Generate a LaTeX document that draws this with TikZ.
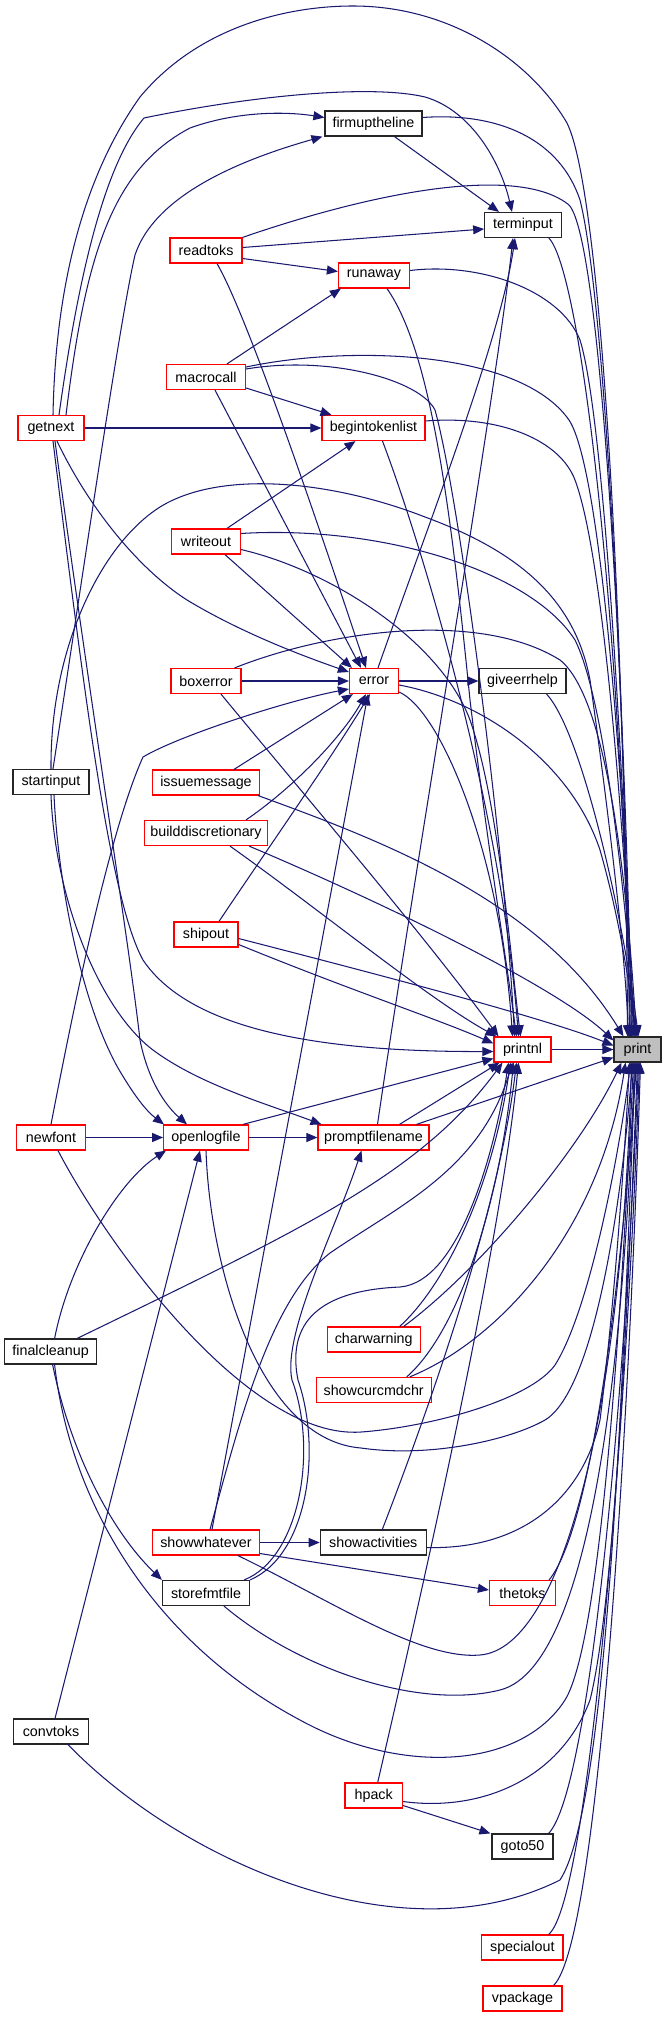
\documentclass[tikz,border=0pt]{standalone}
\usepackage{fontspec}
\setmainfont{Liberation Sans}
\usetikzlibrary{arrows.meta,calc}
\definecolor{nred}{RGB}{255,0,0}
\definecolor{edgec}{RGB}{25,25,112}
\definecolor{pgrey}{RGB}{191,191,191}
\newcommand\nfs{\fontsize{14.3}{16}\selectfont}
\tikzset{
  nbox/.style={draw, rectangle, line width=1.2pt, minimum height=25pt, inner sep=0pt, font=\nfs, fill=white, text=black},
  rn/.style={nbox, draw=nred},
  bn/.style={nbox, draw=black!85},
  e/.style={draw=edgec, line width=1.05pt, -{Triangle[length=11pt,width=9pt]}},
}
\begin{document}
\begin{tikzpicture}[x=1pt,y=-1pt]
\useasboundingbox (0,0) rectangle (663,2017);
% nodes
\node[bn, minimum width=97]  (fir) at (373.5,123.5) {firmuptheline};
\node[bn, minimum width=76.5](ter) at (523,225) {terminput};
\node[rn, minimum width=72]  (rea) at (206,250.5) {readtoks};
\node[rn, minimum width=71]  (run) at (374,275.5) {runaway};
\node[rn, minimum width=79]  (mac) at (206,377) {macrocall};
\node[rn, minimum width=66]  (get) at (51,428) {getnext};
\node[rn, minimum width=103] (beg) at (373.5,428) {begintokenlist};
\node[rn, minimum width=68.5](wri) at (206,541.5) {writeout};
\node[rn, minimum width=70]  (box) at (206,681) {boxerror};
\node[rn, minimum width=49]  (err) at (374,681) {error};
\node[bn, minimum width=87]  (giv) at (522.5,681) {giveerrhelp};
\node[bn, minimum width=76]  (sta) at (51,782) {startinput};
\node[rn, minimum width=107] (iss) at (206,782.5) {issuemessage};
\node[rn, minimum width=123] (bui) at (206,833) {builddiscretionary};
\node[rn, minimum width=64]  (shi) at (206,934.5) {shipout};
\node[rn, minimum width=57]  (pnl) at (522.5,1049.5) {printnl};
\node[bn, minimum width=47, fill=pgrey] (pri) at (637.5,1049.5) {print};
\node[rn, minimum width=68.4](new) at (51,1137.5) {newfont};
\node[rn, minimum width=84.6](ope) at (206,1137.5) {openlogfile};
\node[rn, minimum width=111] (pro) at (373.5,1137.5) {promptfilename};
\node[bn, minimum width=92]  (fin) at (50.6,1351.5) {finalcleanup};
\node[rn, minimum width=93]  (cha) at (373.7,1339.5) {charwarning};
\node[rn, minimum width=115] (scc) at (373.7,1390) {showcurcmdchr};
\node[rn, minimum width=107] (shw) at (206,1542.5) {showwhatever};
\node[bn, minimum width=106] (sac) at (373.3,1542.5) {showactivities};
\node[bn, minimum width=87]  (sto) at (206,1593) {storefmtfile};
\node[rn, minimum width=66]  (the) at (522.5,1593) {thetoks};
\node[bn, minimum width=75]  (con) at (51,1731.5) {convtoks};
\node[rn, minimum width=57.5](hpa) at (373.7,1795.5) {hpack};
\node[bn, minimum width=61]  (got) at (522.5,1846.5) {goto50};
\node[rn, minimum width=81.5](spe) at (522.3,1947.5) {specialout};
\node[rn, minimum width=79]  (vpa) at (522.5,1998.5) {vpackage};
% getnext
\draw[e] ([xshift=2]get.north) .. controls (56,260) and (95,160) .. (140,97) .. controls (200,25) and (290,6) .. (353,6) .. controls (450,6) and (530,60) .. (567,123) .. controls (605,200) and (626,700) .. ([xshift=-10]pri.north);
\draw[e] ([xshift=8]get.north) .. controls (75,300) and (100,170) .. (144,118) .. controls (250,96) and (370,84) .. (425,97) .. controls (470,110) and (500,160) .. ([xshift=-11]ter.north);
\draw[e] ([xshift=15]get.north) .. controls (85,260) and (110,170) .. (190,128) .. controls (240,110) and (290,112) .. ([yshift=6]fir.west);
\draw[e] (get.east) -- (beg.west);
\draw[e] ([xshift=6]get.south) .. controls (90,510) and (140,570) .. (187,600) .. controls (240,632) and (300,655) .. ([yshift=9]err.west);
\draw[e] ([xshift=2]get.south) .. controls (85,700) and (110,900) .. (143,960) .. controls (190,1030) and (320,1052) .. ([yshift=-2]pnl.west);
\draw[e] ([xshift=4]get.south) .. controls (90,700) and (130,950) .. (140,1040) .. controls (148,1080) and (165,1105) .. ([xshift=-19]ope.north);
% startinput
\draw[e] ([xshift=2]sta.north) .. controls (85,560) and (120,320) .. (135,255) .. controls (155,195) and (240,160) .. ([xshift=-2]fir.south west);
\draw[e] (sta.north) .. controls (50,650) and (100,545) .. (160,507) .. controls (220,470) and (330,480) .. (425,517) .. controls (520,552) and (575,600) .. (590,680) .. controls (607,800) and (625,950) .. ([xshift=-9]pri.north);
\draw[e] ([xshift=3]sta.south) .. controls (58,880) and (80,1000) .. (118,1068) .. controls (132,1092) and (145,1110) .. ([xshift=-42]ope.north);
\draw[e] (sta.south) .. controls (55,900) and (100,1010) .. (153,1050) .. controls (200,1085) and (270,1105) .. ([xshift=-52]pro.north);
% newfont
\draw[e] (new.east) -- (ope.west);
\draw[e] (new.north) .. controls (75,1000) and (110,830) .. (143,757) .. controls (180,735) and (290,700) .. ([yshift=-8]err.west);
\draw[e] ([xshift=7]new.south) .. controls (110,1250) and (250,1440) .. (361,1432) .. controls (430,1427) and (530,1400) .. (555,1365) .. controls (590,1310) and (620,1150) .. ([xshift=-7]pri.south);
% openlogfile
\draw[e] (ope.east) -- (pro.west);
\draw[e] ([xshift=-6]ope.north east) -- ([yshift=-9]pnl.west);
\draw[e] (ope.south) .. controls (210,1270) and (260,1440) .. (361,1448) .. controls (430,1458) and (510,1440) .. (545,1420) .. controls (595,1390) and (622,1200) .. ([xshift=-5]pri.south);
% finalcleanup
\draw[e] ([xshift=4]fin.north) .. controls (70,1260) and (120,1180) .. ([xshift=-40]ope.south);
\draw[e] ([xshift=-20]fin.north east) .. controls (300,1230) and (420,1175) .. ([xshift=-20]pnl.south);
\draw[e] ([xshift=2]fin.south) .. controls (70,1450) and (110,1530) .. (sto.north west);
\draw[e] ([xshift=4]fin.south) .. controls (70,1500) and (150,1640) .. (300,1720) .. controls (400,1775) and (520,1770) .. (565,1700) .. controls (602,1640) and (622,1300) .. ([xshift=-4]pri.south);
% convtoks
\draw[e] ([xshift=4]con.north) -- ([xshift=-6]ope.south);
\draw[e] ([xshift=17]con.south) .. controls (180,1860) and (400,1960) .. (560,1880) .. controls (612,1800) and (625,1300) .. ([xshift=-2]pri.south);
% storefmtfile
\draw[e] ([xshift=-6]sto.north east) .. controls (300,1558) and (318,1450) .. (292,1380) .. controls (282,1335) and (335,1230) .. ([xshift=-12]pro.south);
\draw[e] (sto.north east) .. controls (308,1555) and (322,1450) .. (298,1380) .. controls (285,1315) and (330,1290) .. (400,1287) .. controls (460,1282) and (495,1150) .. ([xshift=-14]pnl.south);
\draw[e] ([xshift=18]sto.south) .. controls (300,1670) and (420,1710) .. (500,1690) .. controls (600,1665) and (626,1300) .. ([xshift=-3]pri.south);
% showwhatever
\draw[e] (shw.east) -- (sac.west);
\draw[e] ([yshift=-11]shw.east) -- ([yshift=3]the.west);
\draw[e] ([xshift=32]shw.south) .. controls (330,1600) and (420,1660) .. (480,1655) .. controls (565,1648) and (622,1400) .. ([xshift=-6]pri.south);
\draw[e] ([xshift=6]shw.north) -- ([xshift=-6]err.south);
\draw[e] ([xshift=4]shw.north) .. controls (240,1420) and (270,1300) .. (330,1253) .. controls (400,1205) and (480,1170) .. ([xshift=-10]pnl.south);
% showactivities
\draw[e] ([xshift=9]sac.north) .. controls (440,1380) and (500,1200) .. ([xshift=-6]pnl.south);
\draw[e] ([yshift=-5]sac.east) .. controls (520,1550) and (582,1500) .. (600,1420) .. controls (615,1300) and (625,1150) .. ([xshift=-8]pri.south);
% thetoks, charwarning, showcurcmdchr
\draw[e] ([xshift=-7]the.north east) .. controls (590,1530) and (620,1300) .. ([xshift=-1]pri.south);
\draw[e] ([xshift=26]cha.north) .. controls (440,1290) and (490,1200) .. ([xshift=-12]pnl.south);
\draw[e] ([xshift=30]cha.north) .. controls (480,1270) and (580,1150) .. ([xshift=-16]pri.south);
\draw[e] ([xshift=33]scc.north) .. controls (460,1330) and (500,1200) .. ([xshift=-9]pnl.south);
\draw[e] ([xshift=36]scc.north) .. controls (500,1340) and (600,1230) .. ([xshift=-12]pri.south);
% hpack, goto50, specialout, vpackage
\draw[e] ([xshift=4]hpa.north) .. controls (420,1600) and (500,1250) .. ([xshift=-4]pnl.south);
\draw[e] ([yshift=-6]hpa.east) .. controls (480,1812) and (560,1780) .. (590,1700) .. controls (615,1600) and (628,1300) .. (pri.south);
\draw[e] ([yshift=-10]hpa.east) -- ([xshift=-1]got.north west);
\draw[e] ([xshift=-5]got.north east) .. controls (590,1790) and (625,1400) .. ([xshift=1]pri.south);
\draw[e] ([xshift=-15]spe.north east) .. controls (590,1900) and (628,1400) .. ([xshift=2]pri.south);
\draw[e] ([xshift=-9]vpa.north east) .. controls (600,1940) and (630,1400) .. ([xshift=3]pri.south);
% firmuptheline, terminput
\draw[e] ([yshift=6]fir.east) .. controls (500,112) and (560,140) .. (580,200) .. controls (605,300) and (625,700) .. ([xshift=-8]pri.north);
\draw[e] ([xshift=21]fir.south) -- ([xshift=-24]ter.north);
\draw[e] ([xshift=-13]ter.south east) .. controls (580,270) and (620,600) .. ([xshift=-7]pri.north);
% readtoks
\draw[e] ([yshift=3]rea.east) -- ([yshift=-4]ter.west);
\draw[e] ([yshift=-8]rea.east) -- ([yshift=4]run.west);
\draw[e] (rea.north east) .. controls (380,190) and (520,165) .. (569,205) .. controls (602,240) and (625,700) .. ([xshift=-6]pri.north);
\draw[e] ([xshift=11]rea.south) .. controls (250,320) and (330,560) .. ([xshift=-8]err.north);
% runaway
\draw[e] ([yshift=5]run.east) .. controls (480,262) and (560,290) .. (580,340) .. controls (605,420) and (625,800) .. ([xshift=-5]pri.north);
\draw[e] ([xshift=13]run.south) .. controls (430,350) and (450,500) .. (470,700) .. controls (488,850) and (505,950) .. ([xshift=-6]pnl.north);
% macrocall
\draw[e] ([yshift=10]mac.east) .. controls (350,345) and (520,350) .. (569,420) .. controls (602,470) and (625,800) .. ([xshift=-4]pri.north);
\draw[e] ([yshift=8]mac.east) .. controls (330,355) and (420,380) .. (435,410) .. controls (460,500) and (505,850) .. ([xshift=-8]pnl.north);
\draw[e] ([yshift=-11]mac.east) -- ([xshift=-42]beg.north);
\draw[e] ([xshift=9]mac.south) -- ([xshift=-13]err.north);
\draw[e] ([xshift=21]mac.north) -- ([xshift=3]run.south west);
% begintokenlist
\draw[e] ([yshift=7]beg.east) .. controls (500,415) and (560,440) .. (575,480) .. controls (605,560) and (625,850) .. ([xshift=-3]pri.north);
\draw[e] ([xshift=9]beg.south) .. controls (420,540) and (500,800) .. ([xshift=-4]pnl.north);
% writeout
\draw[e] ([xshift=21]wri.north) -- ([xshift=-18]beg.south);
\draw[e] ([yshift=8]wri.east) .. controls (380,525) and (530,570) .. (575,640) .. controls (605,700) and (626,900) .. ([xshift=-2]pri.north);
\draw[e] ([yshift=-8]wri.east) .. controls (330,570) and (440,640) .. (470,720) .. controls (498,800) and (510,950) .. ([xshift=-2]pnl.north);
\draw[e] ([xshift=19]wri.south) -- ([xshift=3]err.north west);
% boxerror
\draw[e] (box.east) -- (err.west);
\draw[e] ([xshift=-7]box.north east) .. controls (330,630) and (480,610) .. (560,660) .. controls (610,700) and (628,900) .. ([xshift=-1]pri.north);
\draw[e] ([xshift=15]box.south) .. controls (300,790) and (420,930) .. ([xshift=-24]pnl.north);
% error
\draw[e] (err.east) -- (giv.west);
\draw[e] ([xshift=4]err.north) .. controls (430,520) and (500,340) .. ([xshift=-8]ter.south);
\draw[e] ([yshift=-4]err.east) .. controls (480,700) and (570,760) .. (600,850) .. controls (620,920) and (628,980) .. (pri.north);
\draw[e] ([yshift=-11]err.east) .. controls (440,710) and (500,850) .. ([xshift=-10]pnl.north);
\draw[e] ([xshift=-20]giv.south east) .. controls (580,730) and (620,900) .. ([xshift=1]pri.north);
% issuemessage
\draw[e] ([xshift=28]iss.north) -- ([xshift=4]err.south west);
\draw[e] ([xshift=-2]iss.south east) .. controls (380,840) and (540,900) .. ([xshift=-14]pri.north);
% builddiscretionary
\draw[e] ([xshift=40]bui.north) .. controls (290,790) and (340,740) .. ([xshift=-8]err.south);
\draw[e] ([xshift=-19]bui.south east) .. controls (400,910) and (560,990) .. ([yshift=9]pri.west);
\draw[e] ([xshift=24]bui.south) .. controls (320,910) and (430,1000) .. ([xshift=3]pnl.north west);
% shipout
\draw[e] ([xshift=13]shi.north) .. controls (260,860) and (330,760) .. ([xshift=-4]err.south);
\draw[e] ([yshift=-4]shi.east) .. controls (400,980) and (550,1020) .. ([yshift=4]pri.west);
\draw[e] ([yshift=-10]shi.east) .. controls (350,990) and (440,1020) .. ([yshift=6]pnl.west);
% promptfilename
\draw[e] ([xshift=4]pro.north) .. controls (410,900) and (495,400) .. ([xshift=-10]ter.south);
\draw[e] ([xshift=26]pro.north) -- ([xshift=6]pnl.south west);
\draw[e] ([xshift=43]pro.north) -- ([yshift=-8]pri.west);
% printnl
\draw[e] (pnl.east) -- (pri.west);
\end{tikzpicture}
\end{document}
